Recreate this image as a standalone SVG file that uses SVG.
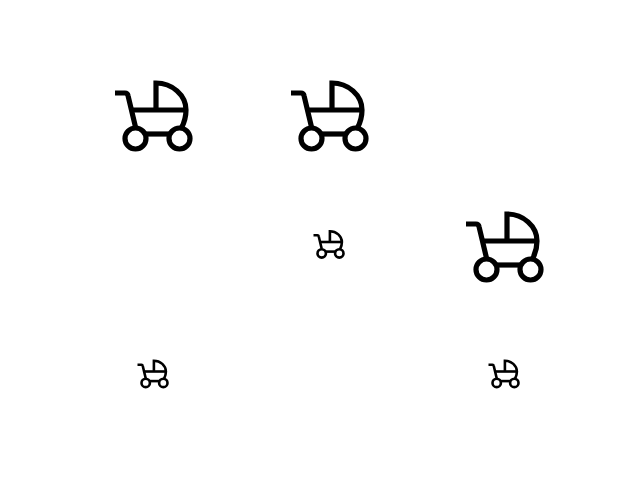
<svg xmlns="http://www.w3.org/2000/svg" width="640" height="480" viewBox="0 0 640 480">
<style>
.large{stroke-width:5.200px}
.small{stroke-width:6.500px}
</style>
<defs>
<g id="pram" fill="none" stroke="#000">
<path d="M115 93H125Q127.500 93 128 95.500L135.500 127"/>
<path d="M156 110V83C172 83 186 95 186 110C186 116 184.500 122 181.500 128"/>
<path d="M131 110H186"/>
<path d="M146 134H169"/>
<circle cx="135.500" cy="138.500" r="10.500"/>
<circle cx="179.500" cy="138.500" r="10.500"/>
</g>
</defs>
<rect width="640" height="480" fill="#fff"/>
<g id="pram-large-1"><use href="#pram" class="large"/></g>
<g id="pram-large-2"><use href="#pram" class="large" x="176"/></g>
<g id="pram-large-3"><use href="#pram" class="large" x="351" y="131"/></g>
<g id="pram-small-1"><use href="#pram" class="small" transform="translate(267.500 198) scale(0.4)"/></g>
<g id="pram-small-2"><use href="#pram" class="small" transform="translate(91.500 327.500) scale(0.4)"/></g>
<g id="pram-small-3"><use href="#pram" class="small" transform="translate(442.500 327.500) scale(0.4)"/></g>
</svg>
